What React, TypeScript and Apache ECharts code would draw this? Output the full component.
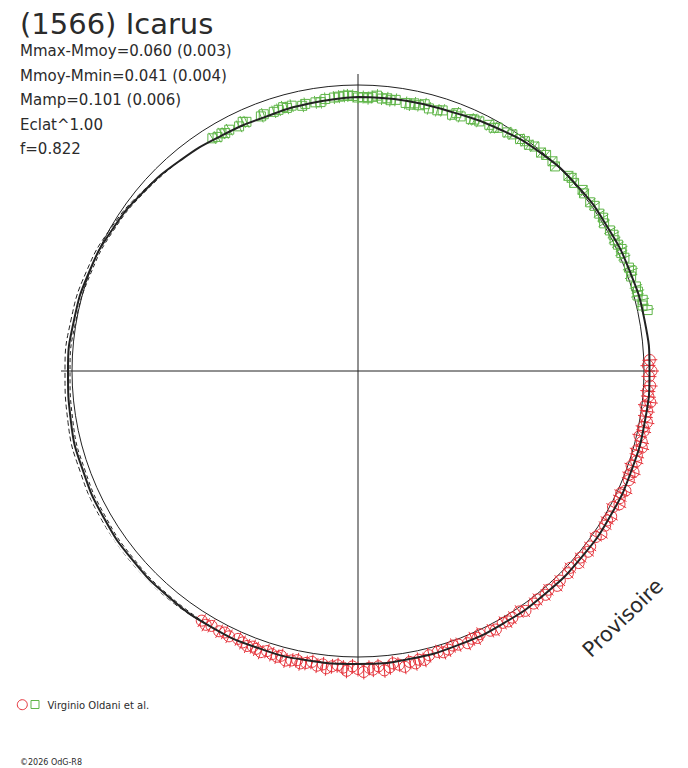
import React, { useEffect, useRef } from "react";
import * as echarts from "echarts";

// ---- Texts ----
const TITLE = "(1566) Icarus";
const STATS = [
  "Mmax-Mmoy=0.060 (0.003)",
  "Mmoy-Mmin=0.041 (0.004)",
  "Mamp=0.101 (0.006)",
  "Eclat^1.00",
  "f=0.822",
];
const AUTHOR = "Virginio Oldani et al.";
const COPYRIGHT = "©2026 OdG-R8";
const WATERMARK = "Provisoire";

// ---- Mean level (reference circle) ----
const MEAN_MAG = 0;

// ---- Fourier fit (phase, relative magnitude) ----
const FIT_PHASE = [
  0.0, 0.028, 0.056, 0.083, 0.111, 0.139, 0.167, 0.194, 0.222, 0.25, 0.278, 0.306,
  0.333, 0.361, 0.389, 0.417, 0.444, 0.472, 0.5, 0.528, 0.556, 0.583, 0.611, 0.639,
  0.667, 0.694, 0.722, 0.75, 0.778, 0.806, 0.833, 0.861, 0.889, 0.917, 0.944, 0.972, 1.0,
];
const FIT_MAG = [
  0.048, 0.046, 0.042, 0.024, 0.006, -0.004, -0.008, -0.014, -0.02, -0.022, -0.021, -0.02,
  -0.02, -0.02, -0.02, -0.021, -0.023, -0.026, -0.028, -0.031, -0.034, -0.036, -0.035, -0.033,
  -0.03, -0.026, -0.022, -0.016, -0.01, -0.002, 0.01, 0.026, 0.042, 0.056, 0.062, 0.056, 0.048,
];

// ---- Alternative fits (dashed) over the uncovered phases ----
const DASH_PHASE = [0.583, 0.611, 0.639, 0.667, 0.694, 0.722, 0.75, 0.778, 0.806, 0.833, 0.861, 0.889];
const DASH_OUT_MAG = [-0.036, -0.043, -0.044, -0.042, -0.038, -0.034, -0.028, -0.022, -0.013, 0.002, 0.022, 0.042];
const DASH_IN_MAG = [-0.036, -0.03, -0.026, -0.022, -0.018, -0.014, -0.008, -0.002, 0.006, 0.016, 0.03, 0.042];

// ---- Session 1 (green squares) ----
const GREEN_PHASE = [
  0.911, 0.914, 0.917, 0.919, 0.922, 0.928, 0.931, 0.933, 0.942, 0.944, 0.95, 0.953,
  0.956, 0.958, 0.961, 0.967, 0.969, 0.975, 0.978, 0.981, 0.986, 0.989, 0.992, 0.994,
  0.997, 0.0, 0.003, 0.006, 0.008, 0.011, 0.014, 0.017, 0.019, 0.022, 0.028, 0.031,
  0.033, 0.036, 0.039, 0.042, 0.047, 0.05, 0.056, 0.058, 0.061, 0.067, 0.069, 0.072,
  0.078, 0.081, 0.083, 0.089, 0.092, 0.097, 0.1, 0.103, 0.106, 0.111, 0.114, 0.119,
  0.122, 0.131, 0.133, 0.136, 0.142, 0.144, 0.15, 0.153, 0.158, 0.161, 0.164, 0.169,
  0.172, 0.175, 0.178, 0.181, 0.183, 0.186, 0.192, 0.194, 0.197, 0.203, 0.206, 0.208,
  0.211, 0.214, 0.217,
];
const GREEN_MAG = [
  0.046, 0.052, 0.048, 0.054, 0.05, 0.056, 0.046, 0.052, 0.054, 0.05, 0.054, 0.052,
  0.047, 0.054, 0.05, 0.06, 0.055, 0.056, 0.058, 0.048, 0.046, 0.044, 0.042, 0.041,
  0.044, 0.05, 0.048, 0.052, 0.046, 0.04, 0.05, 0.047, 0.053, 0.049, 0.055, 0.058,
  0.05, 0.053, 0.044, 0.056, 0.054, 0.048, 0.052, 0.04, 0.046, 0.04, 0.036, 0.034,
  0.028, 0.03, 0.022, 0.018, 0.014, 0.012, 0.008, 0.01, 0.002, 0.004, -0.002, 0.0,
  0.008, -0.004, -0.008, -0.002, -0.01, -0.006, -0.004, -0.01, -0.008, -0.012, -0.004, -0.01,
  -0.014, -0.008, -0.012, -0.018, -0.01, -0.014, -0.016, -0.022, -0.012, -0.018, -0.02, -0.014,
  -0.03, -0.024, -0.04,
];
const GREEN_ERR = 0.026;

// ---- Session 2 (red circles) ----
const RED_PHASE = [
  0.244, 0.247, 0.25, 0.253, 0.258, 0.261, 0.264, 0.267, 0.269, 0.272, 0.275, 0.278,
  0.281, 0.283, 0.286, 0.289, 0.292, 0.294, 0.297, 0.3, 0.303, 0.306, 0.308, 0.311,
  0.317, 0.319, 0.322, 0.325, 0.328, 0.333, 0.336, 0.339, 0.344, 0.347, 0.353, 0.356,
  0.361, 0.364, 0.369, 0.372, 0.378, 0.381, 0.386, 0.389, 0.394, 0.397, 0.403, 0.406,
  0.411, 0.414, 0.417, 0.422, 0.425, 0.431, 0.433, 0.436, 0.439, 0.444, 0.447, 0.45,
  0.453, 0.456, 0.461, 0.464, 0.467, 0.469, 0.472, 0.475, 0.478, 0.481, 0.483, 0.486,
  0.489, 0.492, 0.494, 0.497, 0.5, 0.503, 0.506, 0.508, 0.511, 0.514, 0.517, 0.519,
  0.522, 0.525, 0.528, 0.531, 0.533, 0.536, 0.539, 0.542, 0.544, 0.547, 0.55, 0.553,
  0.556, 0.558, 0.561, 0.564, 0.567, 0.572, 0.575, 0.578, 0.583, 0.586, 0.589,
];
const RED_MAG = [
  -0.024, -0.016, -0.03, -0.02, -0.026, -0.018, -0.022, -0.032, -0.014, -0.024, -0.02, -0.03,
  -0.018, -0.024, -0.012, -0.026, -0.032, -0.016, -0.022, -0.026, -0.014, -0.03, -0.018, -0.024,
  -0.028, -0.016, -0.02, -0.03, -0.012, -0.024, -0.018, -0.022, -0.028, -0.016, -0.02, -0.026,
  -0.018, -0.026, -0.014, -0.022, -0.02, -0.028, -0.016, -0.024, -0.018, -0.022, -0.026, -0.014,
  -0.02, -0.024, -0.018, -0.028, -0.022, -0.016, -0.026, -0.02, -0.03, -0.022, -0.018, -0.028,
  -0.032, -0.024, -0.028, -0.042, -0.036, -0.048, -0.038, -0.054, -0.042, -0.034, -0.048, -0.058,
  -0.04, -0.052, -0.044, -0.06, -0.048, -0.038, -0.056, -0.044, -0.036, -0.042, -0.052, -0.038,
  -0.046, -0.034, -0.042, -0.048, -0.038, -0.044, -0.05, -0.036, -0.044, -0.04, -0.034, -0.046,
  -0.04, -0.036, -0.042, -0.036, -0.03, -0.036, -0.03, -0.036, -0.032, -0.04, -0.034,
];
const RED_ERR = 0.03;

const INK = "#222222";
const TEXT = "#2b2b2b";
const GREEN = "#5fb548";
const RED = "#e6323a";
const FONT = "DejaVu Sans";

export default function App() {
  const ref = useRef<HTMLDivElement>(null);

  useEffect(() => {
    if (!ref.current) return;
    const chart = echarts.init(ref.current, null, { renderer: "svg" });

    const pxPerMag = 250;
    const meanRadiusPx = 286;
    const polarRadiusPx = 297;
    const rMax = meanRadiusPx / pxPerMag; // value at centre
    const rMin = rMax - polarRadiusPx / pxPerMag; // value at outer edge

    const circleData: number[][] = [];
    for (let i = 0; i <= 120; i++) circleData.push([MEAN_MAG, i / 120]);

    const fitData = FIT_PHASE.map((p, i) => [FIT_MAG[i], p]);
    const dashOut = DASH_PHASE.map((p, i) => [DASH_OUT_MAG[i], p]);
    const dashIn = DASH_PHASE.map((p, i) => [DASH_IN_MAG[i], p]);
    const greenData = GREEN_PHASE.map((p, i) => [GREEN_MAG[i], p]);
    const redData = RED_PHASE.map((p, i) => [RED_MAG[i], p]);

    const makeRender = (kind: "rect" | "circle", color: string, err: number) =>
      (params: any, api: any) => {
        const m = api.value(0);
        const ph = api.value(1);
        const c = api.coord([m, ph]);
        const a = api.coord([m - err, ph]);
        const b = api.coord([m + err, ph]);
        const mark =
          kind === "rect"
            ? {
                type: "rect",
                shape: { x: c[0] - 4.5, y: c[1] - 4.5, width: 9, height: 9 },
                style: { fill: "none", stroke: color, lineWidth: 1 },
              }
            : {
                type: "circle",
                shape: { cx: c[0], cy: c[1], r: 5.5 },
                style: { fill: "none", stroke: color, lineWidth: 1 },
              };
        return {
          type: "group",
          children: [
            {
              type: "line",
              shape: { x1: a[0], y1: a[1], x2: b[0], y2: b[1] },
              style: { stroke: color, lineWidth: 1 },
            },
            mark,
          ],
        };
      };

    const statTexts = STATS.map((t, i) => ({
      type: "text",
      x: 20,
      y: 51 + i * 24.6,
      style: {
        text: t,
        font: `15px '${FONT}'`,
        fill: TEXT,
        textAlign: "left",
        textVerticalAlign: "middle",
      },
    }));

    chart.setOption({
      animation: false,
      backgroundColor: "#ffffff",
      polar: { center: [358, 371], radius: polarRadiusPx },
      angleAxis: {
        type: "value",
        min: 0,
        max: 1,
        interval: 0.25,
        startAngle: 90,
        clockwise: true,
        axisLine: { show: false },
        axisTick: { show: false },
        axisLabel: { show: false },
        splitLine: { show: true, lineStyle: { color: INK, width: 1 } },
      },
      radiusAxis: {
        type: "value",
        inverse: true,
        min: rMin,
        max: rMax,
        axisLine: { show: false },
        axisTick: { show: false },
        axisLabel: { show: false },
        splitLine: { show: false },
      },
      series: [
        {
          type: "line",
          coordinateSystem: "polar",
          data: circleData,
          showSymbol: false,
          clip: false,
          lineStyle: { color: INK, width: 1 },
          z: 2,
        },
        {
          type: "custom",
          coordinateSystem: "polar",
          data: greenData,
          renderItem: makeRender("rect", GREEN, GREEN_ERR),
          clip: false,
          z: 3,
        },
        {
          type: "custom",
          coordinateSystem: "polar",
          data: redData,
          renderItem: makeRender("circle", RED, RED_ERR),
          clip: false,
          z: 3,
        },
        {
          type: "line",
          coordinateSystem: "polar",
          data: dashOut,
          showSymbol: false,
          smooth: true,
          clip: false,
          lineStyle: { color: INK, width: 1, type: [5, 3] },
          z: 4,
        },
        {
          type: "line",
          coordinateSystem: "polar",
          data: dashIn,
          showSymbol: false,
          smooth: true,
          clip: false,
          lineStyle: { color: INK, width: 1, type: [4, 3] },
          z: 4,
        },
        {
          type: "line",
          coordinateSystem: "polar",
          data: fitData,
          showSymbol: false,
          smooth: true,
          clip: false,
          lineStyle: { color: INK, width: 2 },
          z: 5,
        },
      ],
      graphic: [
        {
          type: "text",
          x: 20,
          y: 24,
          style: {
            text: TITLE,
            font: `29px '${FONT}'`,
            fill: TEXT,
            textAlign: "left",
            textVerticalAlign: "middle",
          },
        },
        ...statTexts,
        {
          type: "text",
          x: 623,
          y: 618,
          rotation: (44 * Math.PI) / 180,
          style: {
            text: WATERMARK,
            font: `21px '${FONT}'`,
            fill: TEXT,
            textAlign: "center",
            textVerticalAlign: "middle",
          },
        },
        {
          type: "circle",
          shape: { cx: 22.3, cy: 704.7, r: 5 },
          style: { fill: "none", stroke: RED, lineWidth: 1 },
        },
        {
          type: "rect",
          shape: { x: 31, y: 700.5, width: 8, height: 8 },
          style: { fill: "none", stroke: GREEN, lineWidth: 1 },
        },
        {
          type: "text",
          x: 47.5,
          y: 705,
          style: {
            text: AUTHOR,
            font: `10px '${FONT}'`,
            fill: TEXT,
            textAlign: "left",
            textVerticalAlign: "middle",
          },
        },
        {
          type: "text",
          x: 20,
          y: 762.5,
          style: {
            text: COPYRIGHT,
            font: `8px '${FONT}'`,
            fill: TEXT,
            textAlign: "left",
            textVerticalAlign: "middle",
          },
        },
      ],
    });

    return () => chart.dispose();
  }, []);

  return (
    <div
      ref={ref}
      style={{ position: "absolute", left: 0, top: 0, width: 688, height: 768, background: "#fff" }}
    />
  );
}
